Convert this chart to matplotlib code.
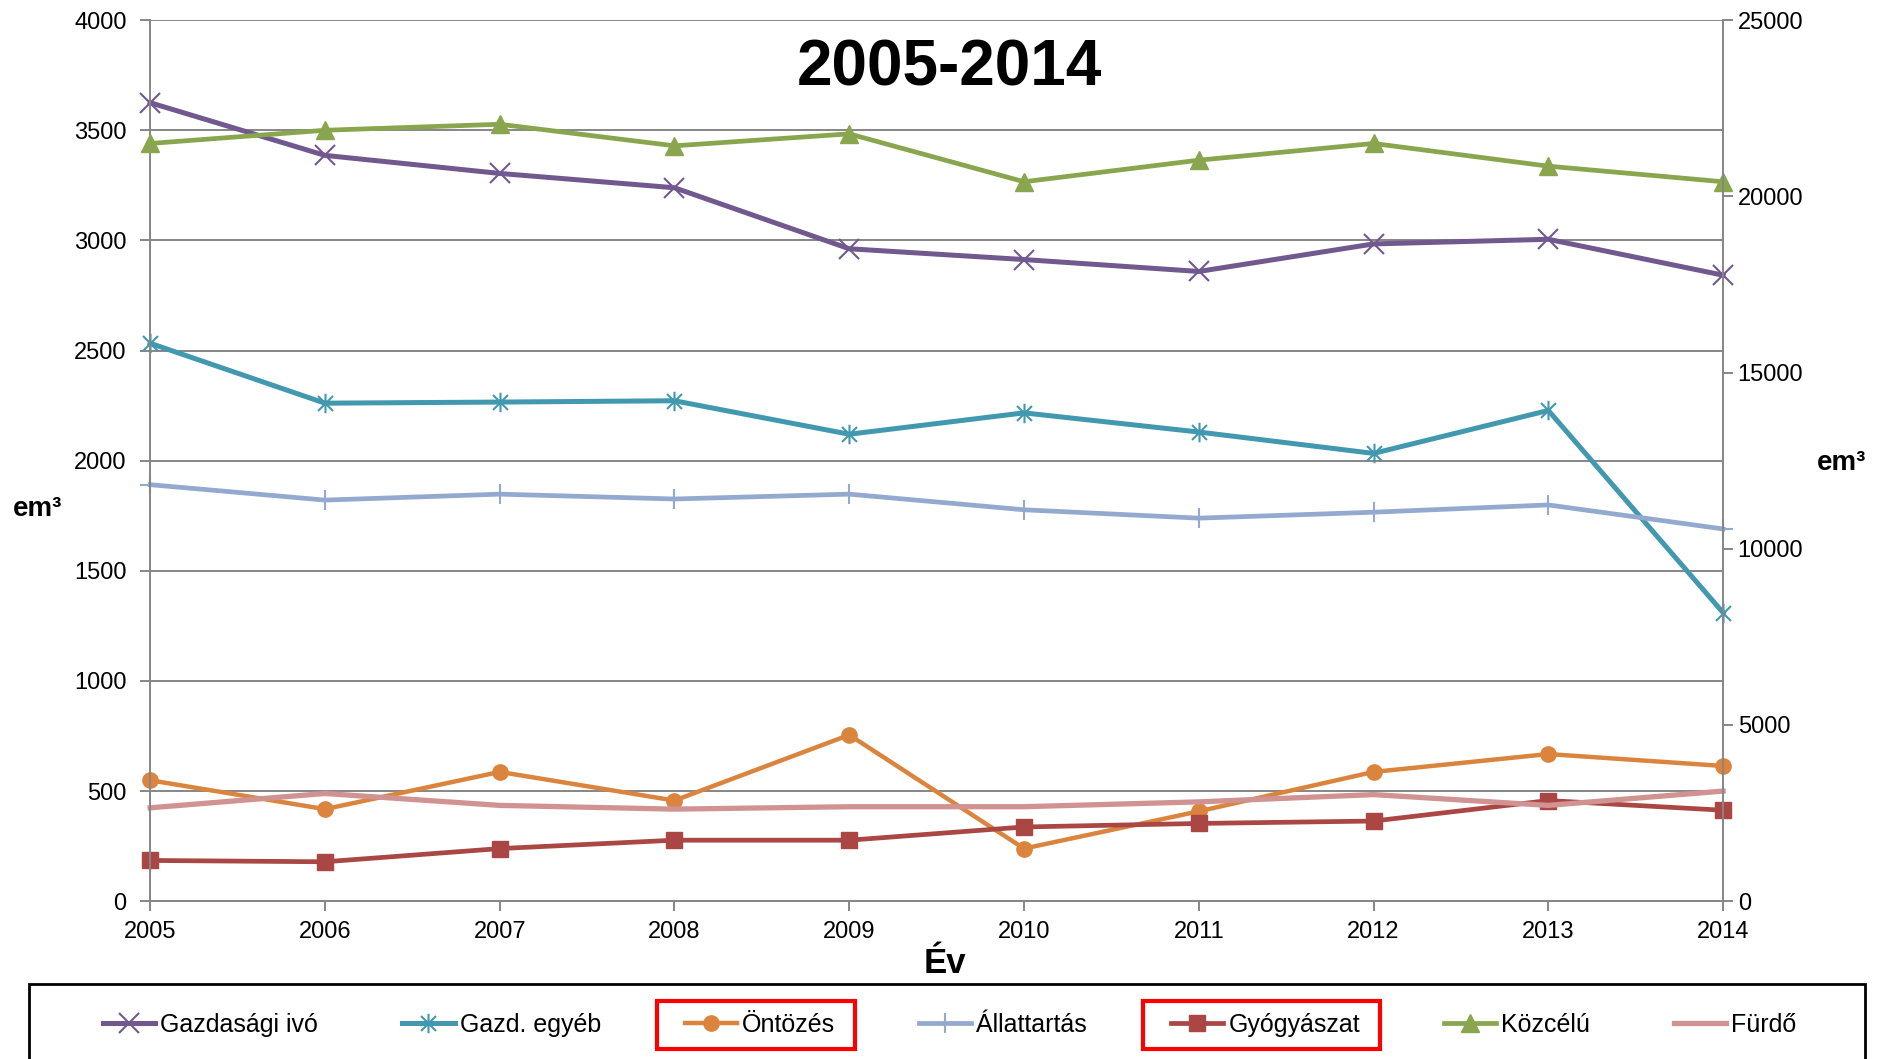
import matplotlib
matplotlib.use("Agg")
import matplotlib.pyplot as plt
from matplotlib.path import Path
from matplotlib.patches import Rectangle

plt.rcParams['font.family'] = ['Liberation Sans', 'DejaVu Sans']

years = [2005, 2006, 2007, 2008, 2009, 2010, 2011, 2012, 2013, 2014]
gazd_ivo = [3625, 3386, 3304, 3239, 2962, 2913, 2859, 2984, 3005, 2842]
gazd_egyeb = [2533, 2261, 2266, 2272, 2120, 2217, 2130, 2033, 2228, 1310]
ontozes = [549, 418, 587, 457, 755, 239, 408, 587, 668, 614]
allattartas = [1891, 1821, 1848, 1826, 1848, 1777, 1739, 1766, 1799, 1690]
gyogyaszat = [185, 179, 239, 277, 277, 337, 353, 364, 457, 413]
kozcelu = [21500, 21875, 22045, 21433, 21773, 20414, 21026, 21500, 20856, 20414]  # right axis
furdo = [424, 489, 435, 418, 429, 429, 451, 484, 435, 500]

left_ticks = list(range(0, 4001, 500))
right_ticks = list(range(0, 25001, 5000))

# Excel style asterisk marker: x plus vertical bar
star = Path([(-1, -1), (1, 1), (-1, 1), (1, -1), (0, -1.3), (0, 1.3)],
            [Path.MOVETO, Path.LINETO, Path.MOVETO, Path.LINETO, Path.MOVETO, Path.LINETO])

grey = "#868686"
fig = plt.figure(figsize=(18.77, 10.59), dpi=100)
ax = fig.add_axes([0.08, 0.149, 0.838, 0.832])
ax2 = ax.twinx()

lines = []
lines += ax.plot(years, gazd_ivo, color="#71588F", lw=3.6, marker="x", ms=14, mew=1.5, label="Gazdasági ivó", clip_on=False)
lines += ax.plot(years, gazd_egyeb, color="#4198AF", lw=3.6, marker=star, ms=14, mew=1.5, label="Gazd. egyéb", clip_on=False)
lines += ax.plot(years, ontozes, color="#DB843D", lw=3.2, marker="o", ms=11, label="Öntözés", clip_on=False)
lines += ax.plot(years, allattartas, color="#93A9CF", lw=3.4, marker="+", ms=15, mew=1.5, label="Állattartás", clip_on=False)
lines += ax.plot(years, gyogyaszat, color="#AA4643", lw=3.4, marker="s", ms=11, label="Gyógyászat", clip_on=False)
lines += ax2.plot(years, kozcelu, color="#89A54E", lw=3.4, marker="^", ms=13, label="Közcélú", clip_on=False)
lines += ax.plot(years, furdo, color="#D19392", lw=3.8, label="Fürdő", clip_on=False)

ax.set_xlim(2005, 2014)
ax.set_ylim(0, 4000)
ax2.set_ylim(0, 25000)
ax.set_xticks(years)
ax.set_yticks(left_ticks)
ax2.set_yticks(right_ticks)

ax.grid(axis="y", color=grey, lw=1.4)
ax.set_axisbelow(True)
for a in (ax, ax2):
    a.spines["top"].set_visible(False)
    for s in a.spines.values():
        s.set_color(grey)
        s.set_linewidth(1.4)
    a.tick_params(colors=grey, labelcolor="black", labelsize=17, width=1.4, length=7)
ax.tick_params(axis="y", pad=10)
ax.tick_params(axis="x", pad=7)
ax.spines["right"].set_visible(False)
ax2.spines["left"].set_visible(False)
ax2.spines["bottom"].set_visible(False)

ax.text(0.508, 0.945, "2005-2014", transform=ax.transAxes, fontsize=46,
        fontweight="bold", ha="center", va="center")
ax.set_xlabel("Év", fontsize=25, fontweight="bold", labelpad=0)
ax.xaxis.set_label_coords(0.505, -0.052)
fig.text(0.02, 0.519, "em³", fontsize=20, fontweight="bold", ha="center", va="center")
fig.text(0.981, 0.563, "em³", fontsize=20, fontweight="bold", ha="center", va="center")

# legend frame drawn separately, entries centred inside it
fig.patches.append(Rectangle((0.0155, -0.05), 0.978, 0.121, transform=fig.transFigure,
                             fill=False, edgecolor="black", lw=2))
leg = fig.legend(handles=lines, loc="center", ncol=7, bbox_to_anchor=(0.506, 0.032),
                 fontsize=18, frameon=False, handlelength=2.1, handletextpad=0.2,
                 columnspacing=3.35)

fig.canvas.draw()
inv = fig.transFigure.inverted()
r = fig.canvas.get_renderer()
for i in (2, 4):
    tb = leg.get_texts()[i].get_window_extent(r)
    hb = leg.legend_handles[i].get_window_extent(r)
    x0 = hb.x0 - 20
    x1 = tb.x1 + 20
    yc = (tb.y0 + tb.y1) / 2
    (fx0, fy0) = inv.transform((x0, yc - 24))
    (fx1, fy1) = inv.transform((x1, yc + 24))
    fig.patches.append(Rectangle((fx0, fy0), fx1 - fx0, fy1 - fy0, transform=fig.transFigure,
                                 fill=False, edgecolor="red", lw=3, zorder=10))

fig.savefig("out.png", dpi=100)
